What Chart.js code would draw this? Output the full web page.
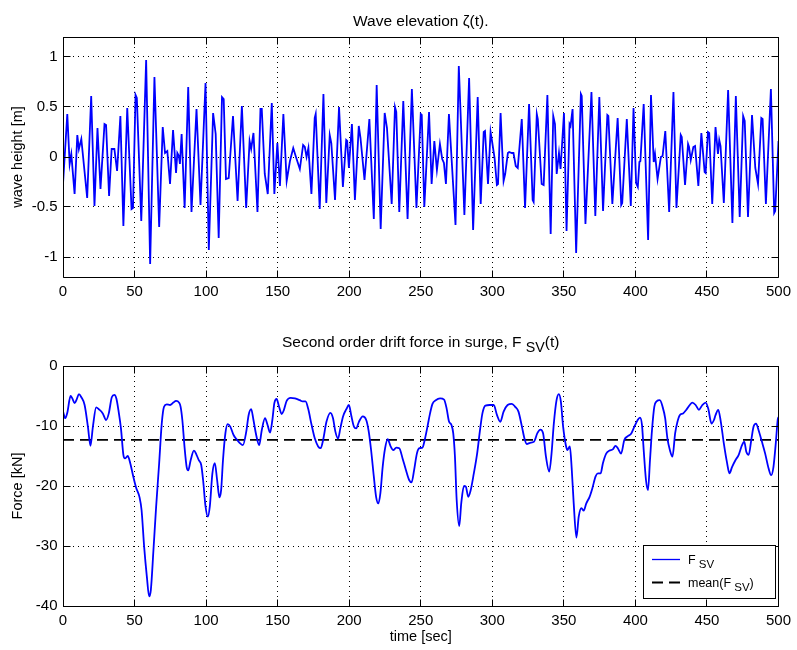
<!DOCTYPE html>
<html>
<head>
<meta charset="utf-8">
<title>Wave elevation and drift force</title>
<script src="https://cdn.jsdelivr.net/npm/chart.js@4.4.1/dist/chart.umd.min.js"></script>
<style>
  html, body { margin: 0; padding: 0; background: #fff; }
  #wrap { position: relative; width: 797px; height: 650px; }
  #wrap canvas { position: absolute; left: 0; top: 0; }
</style>
</head>
<body>
<div id="wrap">
  <canvas id="waveChart" width="797" height="650"></canvas>
  <canvas id="forceChart" width="797" height="650"></canvas>
</div>
<script>
// --- data: wave elevation zeta(t) [m] ---
const waveTime = [
  0, 3.0, 4.65, 5.8, 8.1, 10.0, 11.1, 12.8, 16.9, 19.7, 22.0, 24.1, 26.2, 29.0, 30.1, 32.2, 34.0, 35.9, 37.8, 40.1, 42.2, 44.9, 47.9, 48.9,
  50.7, 51.6, 54.7, 58.1, 60.9, 63.9, 67.2, 69.7, 71.3, 72.9, 74.8, 76.9, 79.0, 79.9, 81.0, 81.7, 82.9, 85.0, 87.5, 89.8, 93.3, 96.1, 99.6,
  101.9, 104.9, 106.7, 108.8, 111.1, 112.3, 113.9, 115.8, 118.8, 122.0, 125.0, 128.0, 130.4, 131.5, 133.1, 135.9, 138.0, 138.9, 141.0, 143.1, 145.9, 147.7, 149.8,
  151.6, 154.0, 156.3, 158.6, 160.9, 162.8, 165.5, 167.8, 169.0, 170.2, 171.5, 173.6, 175.9, 176.6, 179.4, 182.0, 184.0, 186.4, 187.5, 190.1, 192.9, 195.6, 197.9, 198.6, 199.8,
  201.9, 204.0, 206.7, 207.9, 210.7, 214.1, 217.2, 219.2, 222.0, 224.8, 226.4, 229.7, 232.0, 232.9, 235.0, 237.8, 240.8, 243.8, 247.0,
  250.0, 250.7, 252.5, 255.8, 257.6, 259.5, 261.3, 263.4, 265.0, 266.2, 267.6, 269.7, 274.3, 276.6, 280.5, 283.8, 286.6, 289.8, 291.9, 294.0, 294.9, 297.0, 298.8, 299.8,
  301.6, 303.2, 304.0, 305.8, 307.9, 309.0, 310.9, 311.8, 313.6, 314.8, 316.4, 317.8, 320.6, 322.9, 325.7, 328.2, 328.9, 331.1, 331.8, 334.5, 335.9, 338.5, 340.8, 342.6, 343.8, 345.0, 346.6, 347.7,
  350.1, 351.9, 354.0, 354.7, 356.1, 358.6, 361.9, 362.5, 365.1, 369.3, 372.0, 374.8, 377.4, 380.4, 381.1, 383.9, 387.6, 390.1, 390.8, 394.0, 396.8, 398.7,
  400.5, 401.7, 402.8, 403.5, 405.8, 408.9, 410.9, 412.8, 413.7, 415.5, 417.8, 419.0, 420.9, 423.6, 426.6, 428.7, 431.7, 432.4, 434.7, 436.8, 437.5, 438.7, 440.5, 441.7, 444.0, 446.1, 448.4, 449.1,
  450.7, 451.6, 453.7, 456.0, 457.7, 458.6, 459.5, 461.8, 464.8, 467.8, 470.2, 472.9, 475.3, 476.4, 478.7, 481.5, 483.8, 485.7, 488.0, 488.9, 491.2, 494.7, 497.0, 497.7, 500.0
];
const waveHeight = [
  -0.27, 0.43, -0.07, 0.03, -0.37, 0.22, 0.08, 0.18, -0.41, 0.61, -0.49, 0.29, -0.32, 0.33, 0.32, -0.39, 0.08, 0.08, -0.14, 0.41, -0.69, 0.49, -0.52, -0.51,
  0.62, 0.59, -0.64, 0.97, -1.07, 0.80, -0.70, 0.30, 0.04, 0.06, -0.27, 0.27, -0.16, 0.04, 0.01, -0.07, 0.23, -0.51, 0.70, -0.55, 0.48, -0.48, 0.74,
  -0.93, 0.44, 0.23, -0.81, 0.60, 0.58, -0.22, -0.21, 0.41, -0.44, 0.51, -0.51, 0.16, 0.08, 0.24, -0.55, 0.48, 0.48, -0.17, -0.37, 0.54, -0.37, 0.14,
  -0.29, 0.43, -0.24, -0.04, 0.09, 0.00, -0.12, 0.12, 0.10, 0.00, 0.09, -0.37, 0.39, 0.43, -0.52, 0.63, -0.46, 0.22, 0.14, -0.43, 0.50, -0.30, 0.17, 0.16, -0.11,
  0.33, -0.43, 0.31, 0.19, -0.23, 0.38, -0.62, 0.72, -0.72, 0.44, 0.29, -0.47, 0.50, 0.45, -0.55, 0.56, -0.62, 0.68, -0.51,
  0.43, 0.42, -0.50, 0.45, -0.27, 0.16, -0.13, 0.13, -0.02, -0.06, -0.27, 0.43, -0.68, 0.91, -0.58, 0.79, -0.73, 0.60, -0.47, 0.25, 0.26, -0.27, 0.25, 0.16,
  -0.01, -0.28, -0.27, 0.44, -0.24, -0.17, 0.04, 0.05, 0.04, 0.04, -0.09, -0.11, 0.38, -0.51, 0.53, -0.43, -0.45, 0.43, 0.38, -0.27, -0.28, 0.62, -0.77, 0.41, 0.33, -0.17, 0.04, -0.12,
  0.44, -0.74, 0.33, 0.31, 0.48, -0.96, 0.63, 0.61, -0.67, 0.65, -0.59, 0.60, -0.54, 0.42, 0.41, -0.47, 0.39, -0.48, -0.46, 0.38, -0.49, 0.49,
  -0.26, -0.30, -0.05, -0.04, 0.53, -0.83, 0.62, -0.05, 0.03, -0.22, 0.00, 0.01, 0.26, -0.55, 0.65, -0.51, 0.22, 0.20, -0.28, 0.13, 0.10, -0.03, 0.10, 0.11, -0.29, 0.24, -0.15, -0.16,
  0.25, 0.24, -0.47, 0.30, 0.03, 0.17, 0.11, -0.46, 0.67, -0.66, 0.61, -0.60, 0.41, 0.36, -0.60, 0.42, -0.11, -0.27, 0.39, 0.38, -0.47, 0.68, -0.56, -0.54, 0.16
];

// --- data: slowly varying drift force F_SV(t) [kN] ---
const forceTime = [
  0.0, 1.6, 3.0, 5.3, 6.5, 8.1, 9.5, 11.1, 12.8, 15.1, 17.4, 19.2, 20.9, 23.2, 25.0, 27.8, 30.1, 32.0, 34.1, 35.9, 37.3, 38.7, 40.5, 42.2, 43.3, 45.2, 47.0, 48.9,
  51.0, 53.5, 54.9, 56.7, 58.6, 60.2, 61.4, 63.2, 65.1, 67.2, 69.0, 70.6, 72.5, 74.8, 77.1, 79.0, 81.1, 82.2, 83.4, 85.0, 86.4, 87.5, 89.2, 91.5, 93.3, 94.9, 96.6, 97.9, 99.6,
  101.2, 102.6, 104.4, 106.1, 107.7, 109.3, 110.5, 111.8, 113.5, 115.1, 116.9, 119.2, 121.6, 123.4, 125.7, 128.1, 129.7, 131.5, 133.1, 135.0, 137.1, 138.9, 141.2, 142.9, 144.7, 146.3, 147.7, 149.3,
  151.0, 152.8, 154.4, 156.3, 159.1, 162.1, 165.5, 167.4, 169.5, 171.3, 173.7, 176.0, 178.3, 180.1, 181.8, 184.1, 186.9, 188.7, 190.3, 192.2, 193.8, 195.7, 198.0, 199.8,
  201.4, 203.3, 204.9, 206.8, 209.5, 211.9, 213.5, 215.3, 217.2, 218.8, 220.4, 221.8, 223.4, 225.1, 226.9, 228.8, 230.8, 232.9, 235.0, 237.3, 239.6, 241.9, 243.6, 245.4, 247.3, 249.1,
  251.2, 252.8, 254.7, 256.5, 258.2, 260.5, 263.5, 266.3, 268.1, 269.7, 271.4, 272.7, 273.9, 275.1, 276.9, 278.3, 280.2, 281.5, 283.2, 284.8, 287.1, 289.4, 291.3, 293.1, 295.2, 298.2,
  301.0, 303.3, 305.6, 307.9, 310.7, 313.7, 316.0, 318.3, 320.7, 322.5, 324.1, 326.4, 329.2, 331.5, 333.6, 335.5, 337.5, 339.8, 341.4, 343.0, 344.9, 346.5, 347.9, 349.5,
  351.4, 352.5, 354.2, 355.5, 356.9, 358.8, 360.4, 362.3, 363.9, 365.7, 368.0, 369.9, 372.2, 373.8, 375.7, 377.3, 379.6, 381.9, 384.2, 386.1, 387.7, 390.0, 392.3, 394.7, 397.0, 399.3,
  401.6, 403.2, 404.6, 405.8, 407.4, 408.8, 410.2, 411.6, 413.2, 414.8, 417.1, 419.0, 420.8, 422.4, 424.1, 425.9, 427.8, 429.4, 431.0, 433.3, 435.6, 438.0, 439.8, 442.1, 444.4, 446.8, 449.1,
  450.9, 453.2, 454.9, 456.0, 457.9, 459.7, 461.8, 464.1, 465.7, 467.6, 469.9, 472.2, 474.5, 476.1, 477.5, 479.2, 481.0, 482.6, 484.3, 486.1, 488.4, 490.7, 493.1, 494.9, 496.5, 498.1, 499.5, 500.0
];
const forceValue = [
  -7.6, -8.7, -7.8, -5.0, -5.4, -6.2, -5.6, -4.7, -5.2, -6.5, -10.1, -13.3, -10.1, -6.9, -7.2, -7.9, -9.0, -7.9, -5.2, -4.8, -5.4, -7.3, -10.4, -14.8, -15.4, -15.0, -16.2, -18.2,
  -20.2, -21.9, -24.0, -30.1, -35.1, -38.4, -37.3, -30.7, -23.4, -16.2, -9.6, -6.8, -6.4, -6.5, -6.1, -5.8, -6.1, -6.8, -9.0, -13.7, -16.8, -17.4, -15.7, -14.1, -14.8, -15.7, -16.5, -19.0, -23.4,
  -25.1, -23.4, -17.9, -16.2, -19.0, -21.9, -20.7, -15.7, -11.2, -9.7, -10.1, -11.5, -12.3, -12.8, -13.2, -10.9, -8.2, -7.2, -9.0, -11.5, -13.2, -10.7, -8.7, -9.8, -11.1, -9.0, -6.2, -5.5,
  -6.8, -8.0, -7.3, -5.8, -5.3, -5.4, -5.7, -5.9, -5.9, -7.1, -9.8, -12.1, -13.4, -13.7, -12.3, -9.3, -7.8, -8.7, -10.9, -12.1, -10.4, -8.4, -7.2, -6.5,
  -8.2, -10.1, -10.4, -9.3, -8.4, -9.0, -10.7, -14.0, -18.4, -21.8, -22.9, -21.2, -16.8, -13.7, -12.2, -13.3, -14.0, -13.6, -13.7, -15.4, -17.3, -19.0, -19.4, -17.3, -14.6, -13.7,
  -13.6, -12.3, -10.1, -7.9, -6.3, -5.7, -5.4, -5.6, -7.1, -9.2, -9.8, -11.2, -15.1, -22.3, -26.7, -22.9, -20.0, -20.1, -21.8, -20.8, -17.9, -14.6, -10.9, -7.9, -6.6, -6.5,
  -6.5, -8.2, -9.3, -7.6, -6.5, -6.3, -6.8, -7.6, -10.1, -12.1, -13.0, -12.8, -12.6, -11.2, -10.6, -11.2, -15.1, -17.6, -14.6, -9.6, -5.7, -4.7, -5.9, -10.1,
  -13.2, -14.0, -13.4, -17.1, -22.9, -28.6, -25.1, -23.7, -24.1, -22.9, -21.8, -20.4, -18.4, -17.9, -17.9, -16.2, -14.6, -14.1, -13.9, -13.3, -13.7, -14.6, -12.3, -11.7, -11.3, -10.1,
  -9.0, -8.6, -9.8, -14.0, -19.0, -20.7, -15.7, -10.7, -6.8, -5.9, -5.7, -6.8, -8.7, -12.1, -14.0, -15.1, -11.2, -9.3, -8.2, -7.9, -7.3, -6.5, -6.1, -6.5, -7.3, -6.5, -6.1,
  -7.1, -9.6, -9.0, -8.2, -7.3, -9.3, -12.9, -16.2, -17.9, -16.8, -15.7, -14.8, -13.2, -12.6, -14.3, -14.8, -12.3, -10.1, -9.6, -10.7, -12.6, -14.6, -17.1, -18.2, -16.8, -12.9, -8.9, -8.5
];
const meanForce = -12.3;

// axis ticks
const timeTicks = [0, 50, 100, 150, 200, 250, 300, 350, 400, 450, 500];
const waveTicks = [-1, -0.5, 0, 0.5, 1];
const forceTicks = [-40, -30, -20, -10, 0];

const FONT = '"Liberation Sans", Arial, Helvetica, sans-serif';

// text with optional subscripts: parts = [[text, isSub], ...]
function drawRich(ctx, parts, x, y, size, align) {
  const subSize = size * 0.92;
  const widths = parts.map(([t, sub]) => {
    ctx.font = (sub ? subSize : size) + 'px ' + FONT;
    return ctx.measureText(t).width;
  });
  const total = widths.reduce((s, w) => s + w, 0);
  let cx = align === 'center' ? x - total / 2 : x;
  ctx.textAlign = 'left';
  ctx.textBaseline = 'alphabetic';
  parts.forEach(([t, sub], i) => {
    ctx.font = (sub ? subSize : size) + 'px ' + FONT;
    ctx.fillText(t, cx, sub ? y + size * 0.33 : y);
    cx += widths[i];
  });
}

function drawLegend(chart, lg) {
  const ctx = chart.ctx;
  ctx.save();
  ctx.fillStyle = '#fff';
  ctx.fillRect(lg.x, lg.y, lg.w, lg.h);
  ctx.strokeStyle = '#000';
  ctx.lineWidth = 1;
  ctx.strokeRect(lg.x + 0.5, lg.y + 0.5, lg.w, lg.h);
  chart.data.datasets.forEach((ds, i) => {
    const y = lg.y + lg.rows[i];
    ctx.save();
    ctx.strokeStyle = ds.borderColor;
    ctx.lineWidth = i === 0 ? 1.3 : ds.borderWidth;
    ctx.setLineDash(ds.borderDash || []);
    ctx.beginPath();
    ctx.moveTo(lg.x + 9, y);
    ctx.lineTo(lg.x + 37, y);
    ctx.stroke();
    ctx.restore();
    ctx.fillStyle = '#000';
    drawRich(ctx, lg.labels[i], lg.x + 45, y + 4, 12.5, 'left');
  });
  ctx.restore();
}

// box axes with inward ticks, titles and labels
const matlabFrame = {
  id: 'matlabFrame',
  afterDraw(chart, args, o) {
    const { ctx, chartArea: a, scales } = chart;
    const L = Math.floor(a.left) + 0.5, R = Math.floor(a.right) + 0.5;
    const T = Math.floor(a.top) + 0.5, B = Math.floor(a.bottom) + 0.5;
    ctx.save();
    ctx.strokeStyle = '#000';
    ctx.lineWidth = 1;
    ctx.beginPath();
    ctx.rect(L, T, R - L, B - T);
    scales.x.ticks.forEach(t => {
      const px = Math.floor(scales.x.getPixelForValue(t.value)) + 0.5;
      ctx.moveTo(px, B); ctx.lineTo(px, B - 7);
      ctx.moveTo(px, T); ctx.lineTo(px, T + 7);
    });
    scales.y.ticks.forEach(t => {
      const py = Math.floor(scales.y.getPixelForValue(t.value)) + 0.5;
      ctx.moveTo(L, py); ctx.lineTo(L + 7, py);
      ctx.moveTo(R, py); ctx.lineTo(R - 7, py);
    });
    ctx.stroke();

    ctx.fillStyle = '#000';
    const cx = (a.left + a.right) / 2;
    drawRich(ctx, o.title, cx, o.titleY, 15.5, 'center');
    if (o.xLabel) drawRich(ctx, [[o.xLabel]], cx, o.xLabelY, 14.5, 'center');
    ctx.save();
    ctx.translate(o.yLabelX, (a.top + a.bottom) / 2);
    ctx.rotate(-Math.PI / 2);
    drawRich(ctx, [[o.yLabel]], 0, 0, 14.5, 'center');
    ctx.restore();
    if (o.legend) drawLegend(chart, o.legend);
    ctx.restore();
  }
};

function linearAxis(min, max, tickValues, size, isX) {
  return {
    type: 'linear',
    min: min,
    max: max,
    afterBuildTicks: s => { s.ticks = tickValues.map(v => ({ value: v })); },
    afterFit: s => { if (isX) s.height = size; else s.width = size; },
    grid: { color: '#000', lineWidth: 1, drawTicks: false },
    border: { display: false, dash: [1, 4] },
    ticks: {
      color: '#000',
      padding: isX ? 6 : 5.5,
      font: { family: FONT, size: 15 },
      maxRotation: 0,
      autoSkip: false,
      callback: v => String(v)
    }
  };
}

const toPoints = (xs, ys) => xs.map((x, i) => ({ x: x, y: ys[i] }));

// top: wave elevation
new Chart(document.getElementById('waveChart'), {
  type: 'line',
  data: {
    datasets: [{
      data: toPoints(waveTime, waveHeight),
      borderColor: '#0000ff',
      borderWidth: 1.8,
      pointRadius: 0,
      tension: 0,
      fill: false
    }]
  },
  options: {
    responsive: false,
    animation: false,
    devicePixelRatio: 1,
    layout: { padding: { left: 0, right: 14, top: 37, bottom: 343 } },
    plugins: {
      legend: { display: false },
      tooltip: { enabled: false },
      matlabFrame: {
        title: [['Wave elevation \u03B6(t).']],
        titleY: 26,
        yLabel: 'wave height [m]',
        yLabelX: 22
      }
    },
    scales: {
      x: linearAxis(0, 500, timeTicks, 30, true),
      y: linearAxis(-1.2, 1.2, waveTicks, 63, false)
    }
  },
  plugins: [matlabFrame]
});

// bottom: drift force and its mean
new Chart(document.getElementById('forceChart'), {
  type: 'line',
  data: {
    datasets: [{
      data: toPoints(forceTime, forceValue),
      borderColor: '#0000ff',
      borderWidth: 1.8,
      pointRadius: 0,
      cubicInterpolationMode: 'monotone',
      fill: false
    }, {
      data: [{ x: 0, y: meanForce }, { x: 500, y: meanForce }],
      borderColor: '#000',
      borderWidth: 1.8,
      borderDash: [11, 6],
      pointRadius: 0,
      fill: false
    }]
  },
  options: {
    responsive: false,
    animation: false,
    devicePixelRatio: 1,
    layout: { padding: { left: 0, right: 14, top: 366, bottom: 0 } },
    plugins: {
      legend: { display: false },
      tooltip: { enabled: false },
      matlabFrame: {
        title: [['Second order drift force in surge, F '], ['SV', true], ['(t)']],
        titleY: 347,
        xLabel: 'time [sec]',
        xLabelY: 641,
        yLabel: 'Force [kN]',
        yLabelX: 22,
        legend: {
          x: 643, y: 545, w: 132, h: 53,
          rows: [14.5, 37.5],
          labels: [[['F'], [' SV', true]], [['mean(F'], [' SV', true], [')']]]
        }
      }
    },
    scales: {
      x: linearAxis(0, 500, timeTicks, 44, true),
      y: linearAxis(-40, 0, forceTicks, 63, false)
    }
  },
  plugins: [matlabFrame]
});
</script>
</body>
</html>
